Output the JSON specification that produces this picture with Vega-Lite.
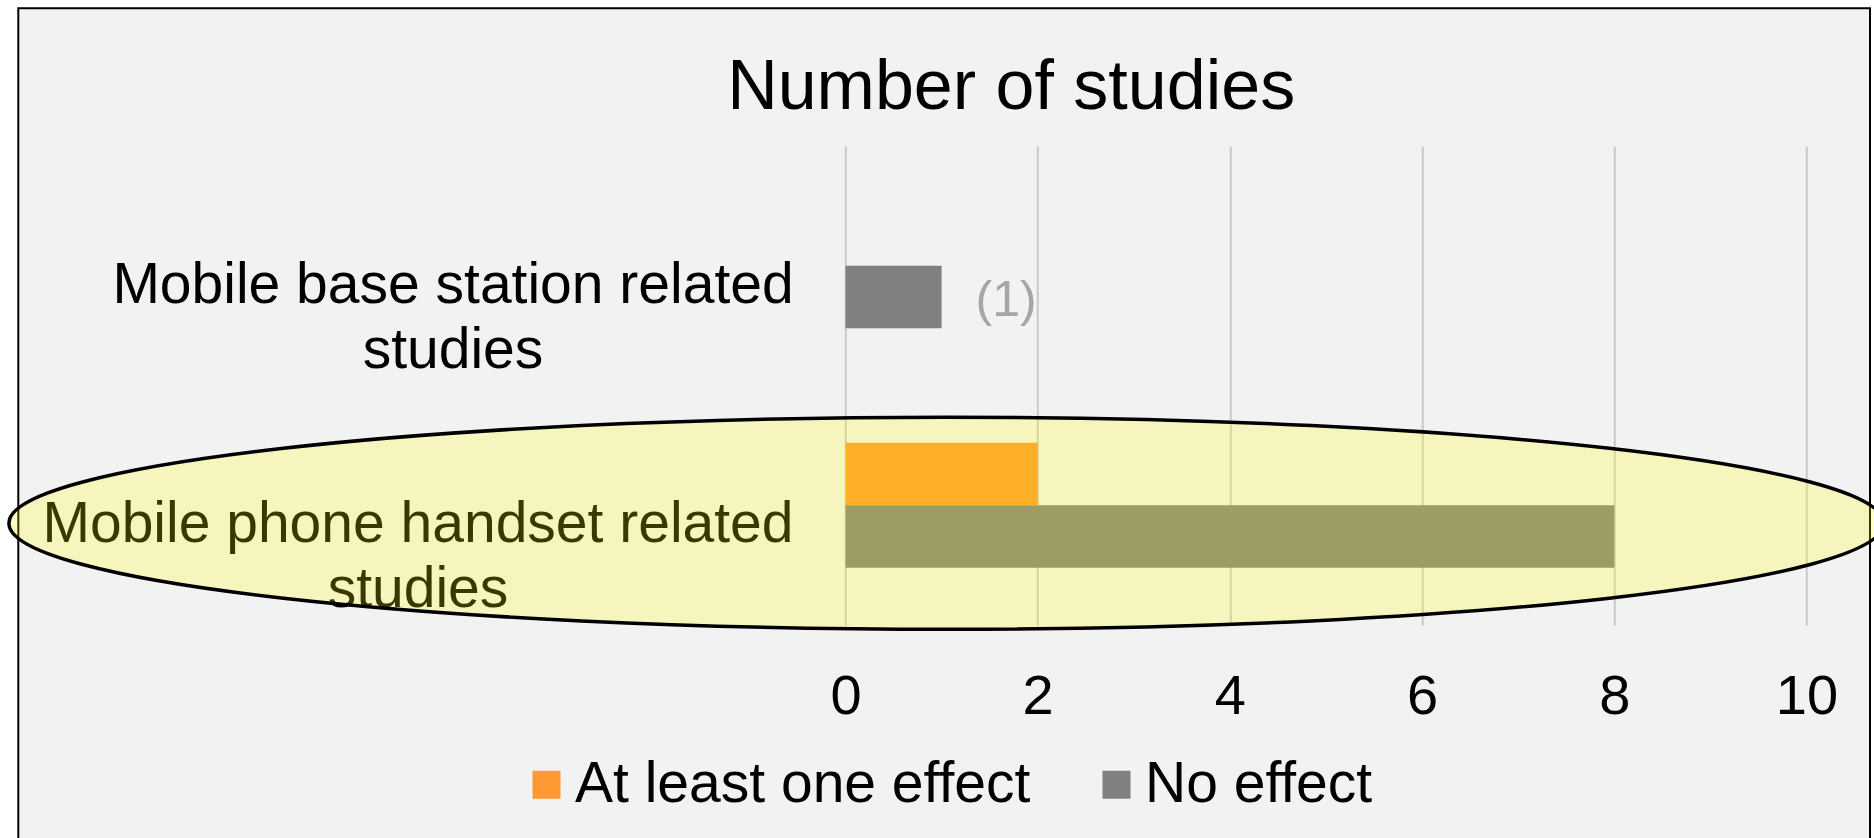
{
  "$schema": "https://vega.github.io/schema/vega-lite/v6.json",
  "width": 1851.7,
  "height": 829.7,
  "autosize": {"type": "none"},
  "padding": {"left": 18.3, "top": 8.3, "right": 4, "bottom": 0},
  "background": "#FFFFFF",
  "config": {
    "font": "Liberation Sans",
    "view": {
      "fill": "#F2F2F2",
      "stroke": "#000000",
      "strokeWidth": 2,
      "strokeDash": [2681.4, 1851.7, 900]
    },
    "axis": {"zindex": 0}
  },
  "title": {
    "text": "Number of studies",
    "fontSize": 70,
    "fontWeight": "normal",
    "color": "#000000",
    "anchor": "middle",
    "dx": 67,
    "offset": -115.7
  },
  "datasets": {
    "studies": [
      {"study": "Mobile base station related studies", "result": "At least one effect", "count": 0},
      {"study": "Mobile base station related studies", "result": "No effect", "count": 1, "label": "(1)"},
      {"study": "Mobile phone handset related studies", "result": "At least one effect", "count": 2},
      {"study": "Mobile phone handset related studies", "result": "No effect", "count": 8}
    ]
  },
  "data": {"name": "studies"},
  "layer": [
    {
      "mark": {"type": "bar"},
      "encoding": {
        "x": {
          "field": "count",
          "type": "quantitative",
          "scale": {"domain": [0, 10], "range": [827.2, 1788.2], "nice": false, "zero": true},
          "axis": {
            "orient": "top",
            "title": null,
            "values": [0, 2, 4, 6, 8, 10],
            "format": "d",
            "grid": true,
            "gridColor": "#C9C9C9",
            "gridWidth": 2,
            "domain": false,
            "ticks": false,
            "tickSize": 0,
            "labelFontSize": 56,
            "labelColor": "#000000",
            "labelBaseline": "alphabetic",
            "labelPadding": -704.7,
            "labelFlush": false,
            "labelOverlap": false,
            "labelBound": false
          }
        },
        "y": {
          "field": "study",
          "type": "nominal",
          "scale": {"range": [137.7, 616.7], "paddingInner": 0, "paddingOuter": 0},
          "axis": {
            "title": null,
            "offset": -827.2,
            "domain": false,
            "ticks": false,
            "tickSize": 0,
            "grid": false,
            "labelFontSize": 57,
            "labelColor": "#000000",
            "labelLineHeight": 65,
            "labelAlign": "center",
            "labelBaseline": "middle",
            "labelOffset": 20,
            "labelLimit": 2000,
            "labelPadding": {
              "condition": {"test": "datum.value === 'Mobile base station related studies'", "value": 393},
              "value": 428
            },
            "labelExpr": "[slice(datum.value, 0, -8), 'studies']"
          }
        },
        "yOffset": {
          "field": "result",
          "type": "nominal",
          "scale": {"paddingInner": 0, "paddingOuter": 0.916}
        },
        "color": {
          "field": "result",
          "type": "nominal",
          "scale": {"domain": ["At least one effect", "No effect"], "range": ["#FF9933", "#808080"]},
          "legend": {
            "title": null,
            "orient": "none",
            "direction": "horizontal",
            "legendX": 499.7,
            "legendY": 747.7,
            "padding": 0,
            "symbolType": "square",
            "symbolSize": 784,
            "symbolStrokeWidth": 0,
            "labelFontSize": 57,
            "labelColor": "#000000",
            "labelOffset": 0,
            "labelLimit": 2000,
            "columnPadding": 57
          }
        }
      }
    },
    {
      "transform": [{"filter": "isValid(datum.label)"}],
      "mark": {"type": "text", "align": "left", "baseline": "middle", "dx": 34, "dy": 4, "fontSize": 50, "color": "#A6A6A6"},
      "encoding": {
        "x": {"field": "count", "type": "quantitative"},
        "y": {"field": "study", "type": "nominal"},
        "yOffset": {"field": "result", "type": "nominal"},
        "text": {"field": "label"}
      }
    },
    {
      "data": {"values": [{"note": "handset highlight"}]},
      "mark": {
        "type": "point",
        "shape": "M -1 0 A 1 0.1131 0 1 1 1 0 A 1 0.1131 0 1 1 -1 0 Z",
        "size": 3515625,
        "filled": true,
        "fill": "#FFFF00",
        "fillOpacity": 0.22,
        "opacity": 1,
        "stroke": "#000000",
        "strokeOpacity": 1,
        "strokeWidth": 3.5,
        "yOffset": 18
      },
      "encoding": {
        "x": {"datum": 1.05, "type": "quantitative"},
        "y": {"datum": "Mobile phone handset related studies", "type": "nominal"}
      }
    }
  ]
}
